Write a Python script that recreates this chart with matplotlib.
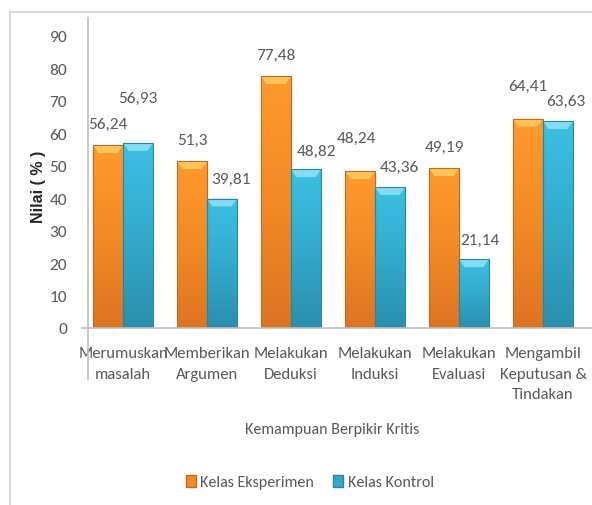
import numpy as np
import matplotlib
matplotlib.use("Agg")
import matplotlib.pyplot as plt
from matplotlib.patches import Polygon, Rectangle
from matplotlib.colors import LinearSegmentedColormap
from matplotlib.lines import Line2D

# data
categories = ["Merumuskan\nmasalah", "Memberikan\nArgumen", "Melakukan\nDeduksi",
              "Melakukan\nInduksi", "Melakukan\nEvaluasi", "Mengambil\nKeputusan &\nTindakan"]
eksperimen = [56.24, 51.3, 77.48, 48.24, 49.19, 64.41]
kontrol = [56.93, 39.81, 48.82, 43.36, 21.14, 63.63]
eksperimen_lbl = ["56,24", "51,3", "77,48", "48,24", "49,19", "64,41"]
kontrol_lbl = ["56,93", "39,81", "48,82", "43,36", "21,14", "63,63"]
yticks = [0, 10, 20, 30, 40, 50, 60, 70, 80, 90]

# label offsets (pixels) as placed in the original chart
eks_dx = [0, 0, 0, -4, 0, 0]
eks_dy = [21, 21, 21, 33, 21, 33]
kon_dx = [0, 9, 10, 9, 6, 8]
kon_dy = [45, 20, 18, 20, 19, 20]

plt.rcParams["font.family"] = ["Carlito", "Lato", "DejaVu Sans"]
txt = "#595959"
grid_c = "#BFBFBF"
fs = 12.5

W, H = 592, 506
fig = plt.figure(figsize=(W / 100, H / 100), dpi=100)
ax = fig.add_axes([88 / W, 1 - 329 / H, 1 - 88 / W, (329 - 19) / H])

x = np.arange(len(categories))
bw = 0.357

orange_cm = LinearSegmentedColormap.from_list("o", ["#FF9A2E", "#F28A25", "#DC7424"])
blue_cm = LinearSegmentedColormap.from_list("b", ["#3CC0E3", "#33AACD", "#2A8FAD"])
grad = np.linspace(0, 1, 256).reshape(-1, 1)


def fancy_bars(xpos, vals, cmap, top_c, edge_c):
    bars = ax.bar(xpos, vals, bw, color="none", edgecolor=edge_c, linewidth=0.8, zorder=3)
    for b in bars:
        x0, w, h = b.get_x(), b.get_width(), b.get_height()
        im = ax.imshow(grad, extent=[x0, x0 + w, 0, h], cmap=cmap, aspect="auto",
                       origin="upper", zorder=2)
        im.set_clip_path(b)
        bh, inset = 2.4, 0.065
        ax.add_patch(Polygon([[x0, h], [x0 + w, h], [x0 + w - inset, h - bh],
                              [x0 + inset, h - bh]], closed=True,
                             facecolor=top_c, edgecolor="none", zorder=2.5))
    return bars


fancy_bars(x - bw / 2, eksperimen, orange_cm, "#FFC45A", "#C8681E")
fancy_bars(x + bw / 2, kontrol, blue_cm, "#84DCF2", "#2686A3")

for i in range(len(categories)):
    ax.annotate(eksperimen_lbl[i], (x[i] - bw / 2, eksperimen[i]),
                xytext=(eks_dx[i], eks_dy[i]), textcoords="offset pixels",
                ha="center", va="center", fontsize=fs, color=txt)
    ax.annotate(kontrol_lbl[i], (x[i] + bw / 2, kontrol[i]),
                xytext=(kon_dx[i], kon_dy[i]), textcoords="offset pixels",
                ha="center", va="center", fontsize=fs, color=txt)

ax.set_xlim(-0.417, 5.583)
ax.set_ylim(0, 95.4)
ax.set_yticks(yticks)
ax.set_xticks(x)
ax.set_xticklabels(categories, linespacing=1.6, fontsize=12)
ax.tick_params(axis="both", length=0, labelsize=fs, colors=txt)
ax.tick_params(axis="y", pad=15)
ax.tick_params(axis="x", pad=13, labelsize=12)
for s in ax.spines.values():
    s.set_visible(False)

# axis lines
ax.plot([-6 / 504, 1], [0, 0], transform=ax.transAxes, color=grid_c, lw=1.2,
        clip_on=False, zorder=4)
ax.plot([0, 0], [1, -51 / 310], transform=ax.transAxes, color=grid_c, lw=1.2,
        clip_on=False, zorder=4)

fig.text(39 / W, 1 - 187 / H, "Nilai ( % )", rotation=90, ha="center", va="center",
         fontsize=11.5, fontweight="bold", family="Liberation Sans", color="#262626")
fig.text(332 / W, 1 - 430 / H, "Kemampuan Berpikir Kritis", ha="center", va="center",
         fontsize=11.5, color=txt)

handles = [Rectangle((0, 0), 1, 1, facecolor="#F28A25", edgecolor="#C8681E"),
           Rectangle((0, 0), 1, 1, facecolor="#33AACD", edgecolor="#2686A3")]
fig.legend(handles, ["Kelas Eksperimen", "Kelas Kontrol"], loc="center",
           bbox_to_anchor=(310 / W, 1 - 483 / H), ncol=2, frameon=False,
           fontsize=11.5, labelcolor=txt, handlelength=0.6, handleheight=0.8,
           handletextpad=0.3, columnspacing=1.2)

# outer chart border
fig.add_artist(Line2D([10 / W, 10 / W], [0, 1 - 13 / H], transform=fig.transFigure,
                      color="#D9D9D9", lw=1.5))
fig.add_artist(Line2D([10 / W, 1], [1 - 13 / H, 1 - 13 / H], transform=fig.transFigure,
                      color="#D9D9D9", lw=1.5))

fig.savefig("out.png", dpi=100)
